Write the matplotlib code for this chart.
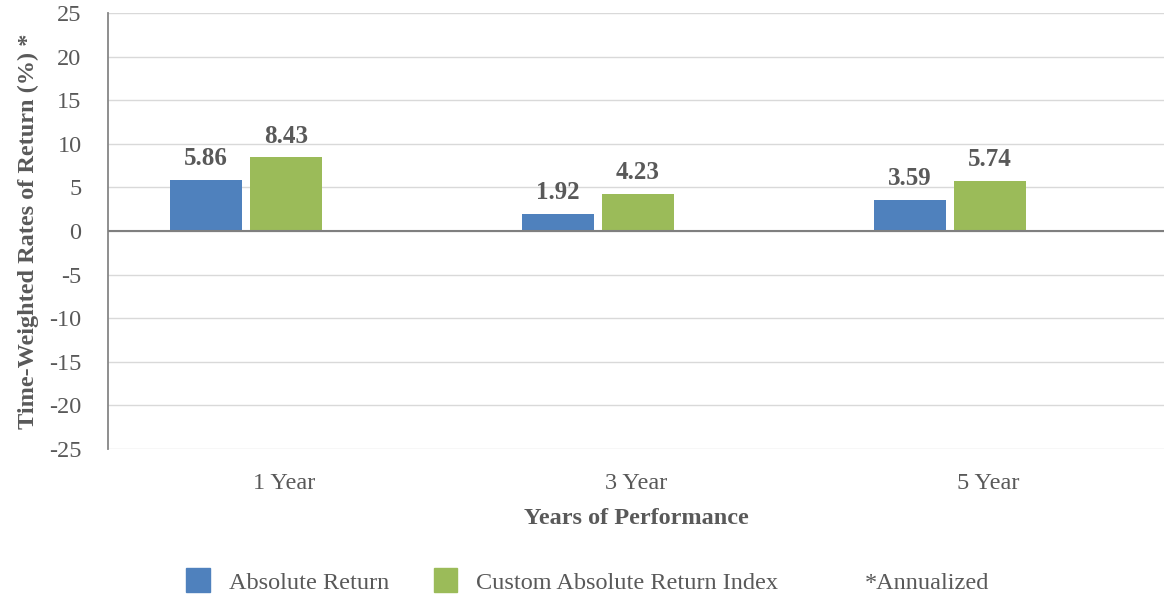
import numpy as np
import matplotlib.pyplot as plt
from matplotlib.patches import Patch

plt.rcParams['font.family'] = ['Liberation Serif', 'DejaVu Serif']

# 数据
categories = ['1 Year', '3 Year', '5 Year']
absolute_return = [5.86, 1.92, 3.59]
custom_index = [8.43, 4.23, 5.74]
series_names = ['Absolute Return', 'Custom Absolute Return Index', '*Annualized']
yticks = list(range(-25, 30, 5))

text_gray = '#595959'
blue = '#4F81BD'
green = '#9BBB59'

fig = plt.figure(figsize=(11.64, 5.96), dpi=100)
ax = fig.add_axes([108 / 1164, 1 - 449 / 596, 1056 / 1164, 436 / 596])

x = np.arange(len(categories))
w = 72 / 352
# 第三个系列(*Annualized)是空的，只占位置，所以两根柱子偏左
off1 = -78 / 352
off2 = 2 / 352
b1 = ax.bar(x + off1, absolute_return, w, color=blue, zorder=3)
b2 = ax.bar(x + off2, custom_index, w, color=green, zorder=3)

for bars, vals in [(b1, absolute_return), (b2, custom_index)]:
    for r, v in zip(bars, vals):
        ax.text(r.get_x() + r.get_width() / 2, v + 1.7, '%.2f' % v,
                ha='center', va='baseline', fontsize=18, fontweight='bold', color=text_gray)

ax.set_xlim(-0.5, 2.5)
ax.set_ylim(-25, 25)
ax.set_yticks(yticks)
ax.set_yticklabels([str(t) for t in yticks])
ax.set_xticks(x)
ax.set_xticklabels(categories)
ax.tick_params(axis='both', length=0, labelsize=17.5, colors=text_gray)
ax.tick_params(axis='x', pad=17)
ax.tick_params(axis='y', pad=19)
ax.grid(axis='y', color='#D9D9D9', linewidth=1, zorder=0)
ax.axhline(0, color='#7F7F7F', linewidth=1.5, zorder=4)

for s in ['top', 'right', 'bottom']:
    ax.spines[s].set_visible(False)
ax.spines['left'].set_color('#868686')
ax.spines['left'].set_linewidth(1.3)

ax.set_xlabel('Years of Performance', fontsize=17.5, fontweight='bold', color=text_gray, labelpad=10)
ax.set_ylabel('Time-Weighted Rates of Return (%) *', fontsize=17.5, fontweight='bold',
              color=text_gray, labelpad=7)

handles = [Patch(color=blue), Patch(color=green), Patch(color='none')]
fig.legend(handles, series_names, loc='center', bbox_to_anchor=(0.505, 1 - 581 / 596),
           ncol=3, frameon=False, fontsize=17.5, labelcolor=text_gray,
           handlelength=0.95, handleheight=1.15, columnspacing=1.85, handletextpad=0.78)

fig.savefig('out.png', dpi=100)
